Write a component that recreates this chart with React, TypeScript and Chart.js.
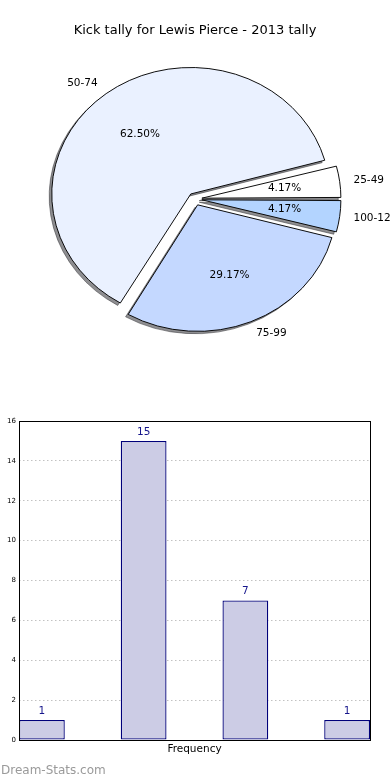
import React, { useEffect, useRef } from 'react';
import { Chart, registerables } from 'chart.js';

Chart.register(...registerables);

// ---------- data ----------
const TITLE = 'Kick tally for Lewis Pierce - 2013 tally';
const categories = ['25-49', '50-74', '75-99', '100-124'];
const counts = [1, 15, 7, 1];
const sliceColors = ['#FFFFFF', '#EAF1FF', '#C4D8FF', '#B3D4FF'];
const yTicks = [0, 2, 4, 6, 8, 10, 12, 14, 16];
const X_TITLE = 'Frequency';
const WATERMARK = 'Dream-Stats.com';

// ---------- style ----------
const FONT = '"DejaVu Sans", Verdana, sans-serif';
const RY = 126.5; // vertical pie radius (px)
const SX = 139 / 126.5; // horizontal stretch of the pie (ellipse)
const EXPLODE = 0.05; // fraction of radius
const SHADOW = 'rgba(50,50,55,0.55)';
const SHADOW_DX = -2.6;
const SHADOW_DY = 2.4;
const BAR_FILL = '#CCCCE5';
const BAR_EDGE = '#00007a';
const BAR_WIDTH = 0.45;

const total = counts.reduce((a, b) => a + b, 0);
// Chart.js draws clockwise from east (rotation 90); matplotlib counter-clockwise -> reverse
const pieLabels = [...categories].reverse();
const pieValues = [...counts].reverse();
const pieColors = [...sliceColors].reverse();

const piePlugin = {
  id: 'pieEllipse',
  afterDatasetUpdate(chart: any, args: any) {
    const meta = args.meta;
    const R = meta.controller.outerRadius;
    meta.data.forEach((arc: any) => {
      const off = ((arc.options && arc.options.offset) || 0) / 4;
      const fix = 1 - Math.sin(Math.min(Math.PI, arc.circumference || 0));
      arc.outerRadius = R - off * fix;
    });
  },
  beforeDatasetsDraw(chart: any) {
    const meta = chart.getDatasetMeta(0);
    const arcs = meta.data;
    const ctx = chart.ctx;
    ctx.save();
    if (!arcs.length) return;
    const cx = arcs[0].x;
    const cy = arcs[0].y;
    ctx.translate(cx, cy);
    ctx.scale(SX, 1);
    ctx.translate(-cx, -cy);
    // shadow pass
    ctx.save();
    ctx.translate(SHADOW_DX / SX, SHADOW_DY);
    arcs.forEach((arc: any) => {
      const ghost = Object.create(arc);
      ghost.options = { ...arc.options, backgroundColor: SHADOW, borderColor: SHADOW };
      arc.draw.call(ghost, ctx);
    });
    ctx.restore();
  },
  afterDatasetsDraw(chart: any) {
    const ctx = chart.ctx;
    ctx.restore();
    const meta = chart.getDatasetMeta(0);
    ctx.save();
    ctx.fillStyle = '#000';
    ctx.font = `10.5px ${FONT}`;
    ctx.textBaseline = 'middle';
    meta.data.forEach((arc: any, i: number) => {
      const mid = (arc.startAngle + arc.endAngle) / 2;
      const c = Math.cos(mid);
      const s = Math.sin(mid);
      const rx = RY * SX;
      const fl = 1 + EXPLODE + 0.1;
      ctx.textAlign = c >= 0 ? 'left' : 'right';
      ctx.fillText(pieLabels[i], arc.x + fl * rx * c, arc.y + fl * RY * s);
      const fp = EXPLODE + 0.6;
      ctx.textAlign = 'center';
      const pct = ((pieValues[i] / total) * 100).toFixed(2) + '%';
      ctx.fillText(pct, arc.x + fp * rx * c, arc.y + fp * RY * s);
    });
    ctx.restore();
  },
};

const barPlugin = {
  id: 'barExtras',
  afterDatasetsDraw(chart: any) {
    const ctx = chart.ctx;
    const meta = chart.getDatasetMeta(0);
    ctx.save();
    ctx.font = `10.5px ${FONT}`;
    ctx.fillStyle = '#16168c';
    ctx.textAlign = 'center';
    ctx.textBaseline = 'middle';
    meta.data.forEach((bar: any, i: number) => {
      ctx.fillText(String(counts[i]), bar.x, bar.y - 9);
    });
    ctx.restore();
  },
  afterDraw(chart: any) {
    const ctx = chart.ctx;
    ctx.save();
    const { left, top, right, bottom } = chart.chartArea;
    ctx.strokeStyle = '#000';
    ctx.lineWidth = 1;
    ctx.strokeRect(Math.round(left) + 0.5, Math.round(top) + 0.5, Math.round(right) - Math.round(left), Math.round(bottom) - Math.round(top));
    ctx.font = `12px ${FONT}`;
    ctx.fillStyle = '#9a9a9a';
    ctx.textAlign = 'left';
    ctx.textBaseline = 'alphabetic';
    ctx.fillText(WATERMARK, 1, 384);
    ctx.restore();
  },
};

export default function App() {
  const pieRef = useRef<HTMLCanvasElement>(null);
  const barRef = useRef<HTMLCanvasElement>(null);

  useEffect(() => {
    document.body.style.margin = '0';
    const pie = new Chart(pieRef.current as HTMLCanvasElement, {
      type: 'pie',
      data: {
        labels: pieLabels,
        datasets: [
          {
            data: pieValues,
            backgroundColor: pieColors,
            borderColor: '#000',
            borderWidth: 0.9,
            offset: EXPLODE * RY * 4,
            radius: RY,
            clip: false,
          } as any,
        ],
      },
      options: {
        responsive: false,
        animation: false,
        devicePixelRatio: 1,
        events: [],
        rotation: 90,
        layout: { padding: { top: 0, bottom: 34.6, left: 0, right: 0 } },
        plugins: {
          legend: { display: false },
          tooltip: { enabled: false },
          title: {
            display: true,
            text: TITLE,
            color: '#000',
            font: { family: FONT, size: 13, weight: 'normal' },
            padding: { top: 23, bottom: 4 },
          },
        },
      } as any,
      plugins: [piePlugin],
    });

    const bar = new Chart(barRef.current as HTMLCanvasElement, {
      type: 'bar',
      data: {
        datasets: [
          {
            data: categories.map((c, i) => ({ x: i, y: counts[i] })),
            backgroundColor: BAR_FILL,
            borderColor: BAR_EDGE,
            borderWidth: 1.3,
            borderSkipped: false,
            categoryPercentage: 1,
            barPercentage: BAR_WIDTH,
          } as any,
        ],
      },
      options: {
        responsive: false,
        animation: false,
        devicePixelRatio: 1,
        events: [],
        layout: { padding: { top: 31, right: 20, left: 0, bottom: 0 } },
        plugins: { legend: { display: false }, tooltip: { enabled: false } },
        scales: {
          x: {
            type: 'linear',
            min: -BAR_WIDTH / 2,
            max: categories.length - 1 + BAR_WIDTH / 2,
            offset: false,
            ticks: { display: false, stepSize: 1, includeBounds: false },
            grid: { display: false, offset: false },
            border: { display: false },
            title: {
              display: true,
              text: X_TITLE,
              color: '#000',
              font: { family: FONT, size: 10.5 },
              padding: { top: 4, bottom: 24.4 },
            },
            afterFit: (s: any) => {
              s.height = 40;
            },
          },
          y: {
            type: 'linear',
            z: 1,
            min: yTicks[0],
            max: yTicks[yTicks.length - 1],
            ticks: {
              stepSize: yTicks[1] - yTicks[0],
              color: '#000',
              font: { family: FONT, size: 7 },
              padding: 3,
            },
            grid: { color: '#c2c2c2', drawTicks: false, lineWidth: 1 },
            border: { display: false, dash: [1.5, 2.5] },
            afterFit: (s: any) => {
              s.width = 19;
            },
          },
        },
      } as any,
      plugins: [barPlugin],
    });

    return () => {
      pie.destroy();
      bar.destroy();
    };
  }, []);

  return (
    <div style={{ position: 'relative', width: 390, height: 780, background: '#fff' }}>
      <canvas ref={pieRef} width={390} height={390} style={{ display: 'block', width: 390, height: 390 }} />
      <canvas ref={barRef} width={390} height={390} style={{ display: 'block', width: 390, height: 390 }} />
    </div>
  );
}
